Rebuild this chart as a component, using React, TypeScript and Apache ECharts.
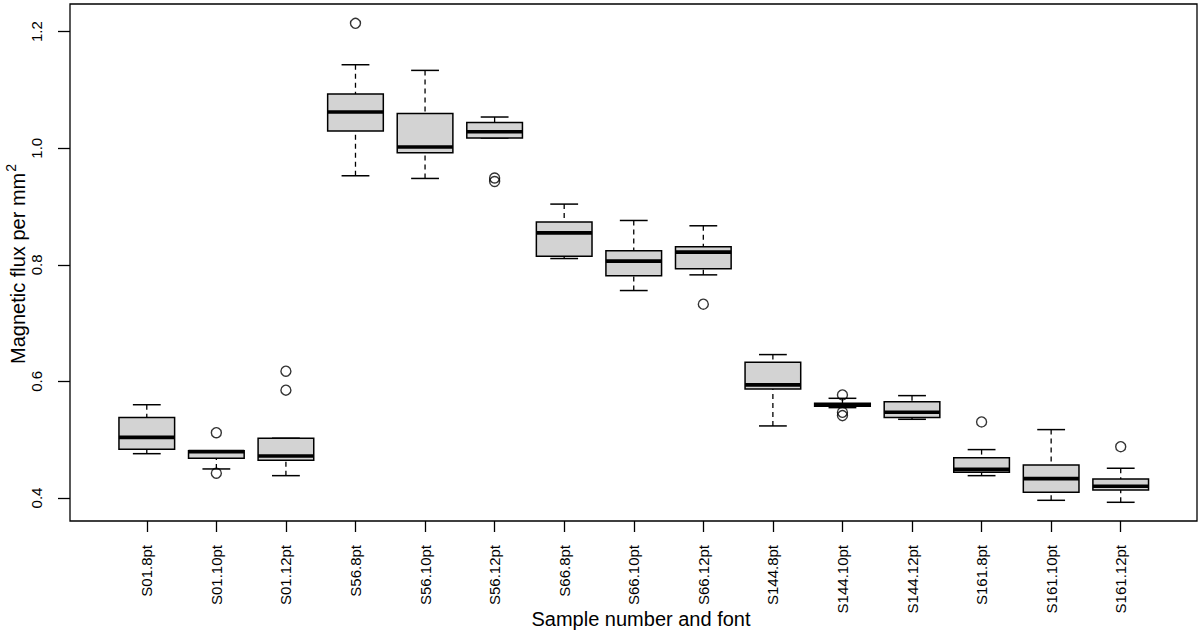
import React, { useEffect, useRef } from "react";
import * as echarts from "echarts";

const categories = [
  "S01.8pt", "S01.10pt", "S01.12pt",
  "S56.8pt", "S56.10pt", "S56.12pt",
  "S66.8pt", "S66.10pt", "S66.12pt",
  "S144.8pt", "S144.10pt", "S144.12pt",
  "S161.8pt", "S161.10pt", "S161.12pt",
];

const lowWhisker = [0.476, 0.4498, 0.4383, 0.9528, 0.9482, 1.0175, 0.8108, 0.7559, 0.7828, 0.5236, 0.555, 0.535, 0.4383, 0.396, 0.3926];
const lowerQuartile = [0.4836, 0.468, 0.4647, 1.0295, 0.9923, 1.0175, 0.8149, 0.7811, 0.7931, 0.587, 0.5575, 0.538, 0.444, 0.4098, 0.4137];
const medians = [0.504, 0.4795, 0.472, 1.0621, 1.0021, 1.0283, 0.8549, 0.8063, 0.8218, 0.594, 0.56, 0.547, 0.449, 0.4332, 0.42];
const upperQuartile = [0.538, 0.481, 0.5025, 1.093, 1.0598, 1.0443, 0.8733, 0.824, 0.8309, 0.633, 0.5625, 0.5653, 0.469, 0.4567, 0.4326];
const highWhisker = [0.56, 0.481, 0.5025, 1.1433, 1.1336, 1.0536, 0.9042, 0.8761, 0.867, 0.646, 0.571, 0.5756, 0.483, 0.5173, 0.451];

const outlierValues: number[][] = [
  [],
  [0.512, 0.4424],
  [0.6175, 0.585],
  [1.2143],
  [],
  [0.949, 0.943],
  [],
  [],
  [0.7325],
  [],
  [0.5768, 0.547, 0.5413],
  [],
  [0.5305],
  [],
  [0.488],
];

const yTicks = [0.4, 0.6, 0.8, 1.0, 1.2];

const FONT = "'Liberation Sans', Arial, Helvetica, sans-serif";

export default function App() {
  const ref = useRef<HTMLDivElement>(null);
  useEffect(() => {
    if (!ref.current) return;
    const chart = echarts.init(ref.current, undefined, { renderer: "svg" });
    const boxData = categories.map((_, i) => [
      i, lowWhisker[i], lowerQuartile[i], medians[i], upperQuartile[i], highWhisker[i],
    ]);
    const outliers: number[][] = [];
    outlierValues.forEach((vals, i) => vals.forEach((v) => outliers.push([i, v])));

    const option: any = {
      animation: false,
      backgroundColor: "#fff",
      textStyle: { fontFamily: FONT },
      grid: { left: 112, right: 44.5, top: 4, bottom: 110, containLabel: false },
      xAxis: {
        type: "category",
        data: categories,
        axisLine: { show: false },
        axisTick: { show: true, alignWithLabel: true, length: 11, lineStyle: { color: "#000", width: 1.3 } },
        axisLabel: { rotate: 90, margin: 24, interval: 0, fontSize: 15, color: "#000", fontFamily: FONT },
        splitLine: { show: false },
      },
      yAxis: {
        type: "value",
        min: 0.3605,
        max: 1.2475,
        offset: 42,
        axisLine: { show: false },
        splitLine: { show: false },
        axisTick: { show: true, length: 12, customValues: yTicks, lineStyle: { color: "#000", width: 1.3 } },
        axisLabel: {
          customValues: yTicks,
          rotate: 90,
          margin: 26,
          fontSize: 15,
          color: "#000",
          fontFamily: FONT,
          formatter: (v: number) => v.toFixed(1),
        },
      },
      graphic: [
        {
          type: "rect",
          silent: true,
          z: 100,
          shape: { x: 70, y: 4, width: 1127, height: 517 },
          style: { fill: "none", stroke: "#000", lineWidth: 1.3 },
        },
        {
          type: "text",
          silent: true,
          x: 641,
          y: 619,
          style: {
            text: "Sample number and font",
            fontSize: 20,
            fontFamily: FONT,
            fill: "#000",
            align: "center",
            verticalAlign: "middle",
          },
        },
        {
          type: "text",
          silent: true,
          x: 16,
          y: 264,
          rotation: Math.PI / 2,
          style: {
            text: "{a|Magnetic flux per mm}{b|2}",
            align: "center",
            verticalAlign: "middle",
            fill: "#000",
            rich: {
              a: { fontSize: 20, fontFamily: FONT, fill: "#000", lineHeight: 24, verticalAlign: "bottom" },
              b: { fontSize: 14, fontFamily: FONT, fill: "#000", lineHeight: 24, verticalAlign: "top", padding: [0, 0, 6, 1] },
            },
          },
        },
      ],
      series: [
        {
          type: "custom",
          data: boxData,
          encode: { x: 0, y: [1, 2, 3, 4, 5] },
          renderItem: (params: any, api: any) => {
            const i = api.value(0);
            const lo = api.coord([i, api.value(1)]);
            const q1 = api.coord([i, api.value(2)]);
            const md = api.coord([i, api.value(3)]);
            const q3 = api.coord([i, api.value(4)]);
            const hi = api.coord([i, api.value(5)]);
            const bw = api.size([1, 0])[0];
            const half = bw * 0.4;
            const cap = bw * 0.2;
            const x = lo[0];
            const dash = { stroke: "#000", lineWidth: 1.3, lineDash: [5, 4] };
            const solid = { stroke: "#000", lineWidth: 1.5 };
            return {
              type: "group",
              children: [
                { type: "line", shape: { x1: x, y1: hi[1], x2: x, y2: q3[1] }, style: dash },
                { type: "line", shape: { x1: x, y1: lo[1], x2: x, y2: q1[1] }, style: dash },
                { type: "line", shape: { x1: x - cap, y1: hi[1], x2: x + cap, y2: hi[1] }, style: solid },
                { type: "line", shape: { x1: x - cap, y1: lo[1], x2: x + cap, y2: lo[1] }, style: solid },
                {
                  type: "rect",
                  shape: { x: x - half, y: q3[1], width: 2 * half, height: q1[1] - q3[1] },
                  style: { fill: "#d3d3d3", stroke: "#000", lineWidth: 1.5 },
                },
                { type: "line", shape: { x1: x - half, y1: md[1], x2: x + half, y2: md[1] }, style: { stroke: "#000", lineWidth: 3.6 } },
              ],
            };
          },
        },
        {
          type: "scatter",
          data: outliers,
          symbol: "circle",
          symbolSize: 10,
          z: 5,
          itemStyle: { color: "rgba(0,0,0,0)", borderColor: "#000", borderWidth: 1.4 },
        },
      ],
    };
    chart.setOption(option);
    return () => chart.dispose();
  }, []);
  return (
    <div
      ref={ref}
      style={{ position: "fixed", left: 0, top: 0, width: 1200, height: 631, background: "#fff" }}
    />
  );
}
